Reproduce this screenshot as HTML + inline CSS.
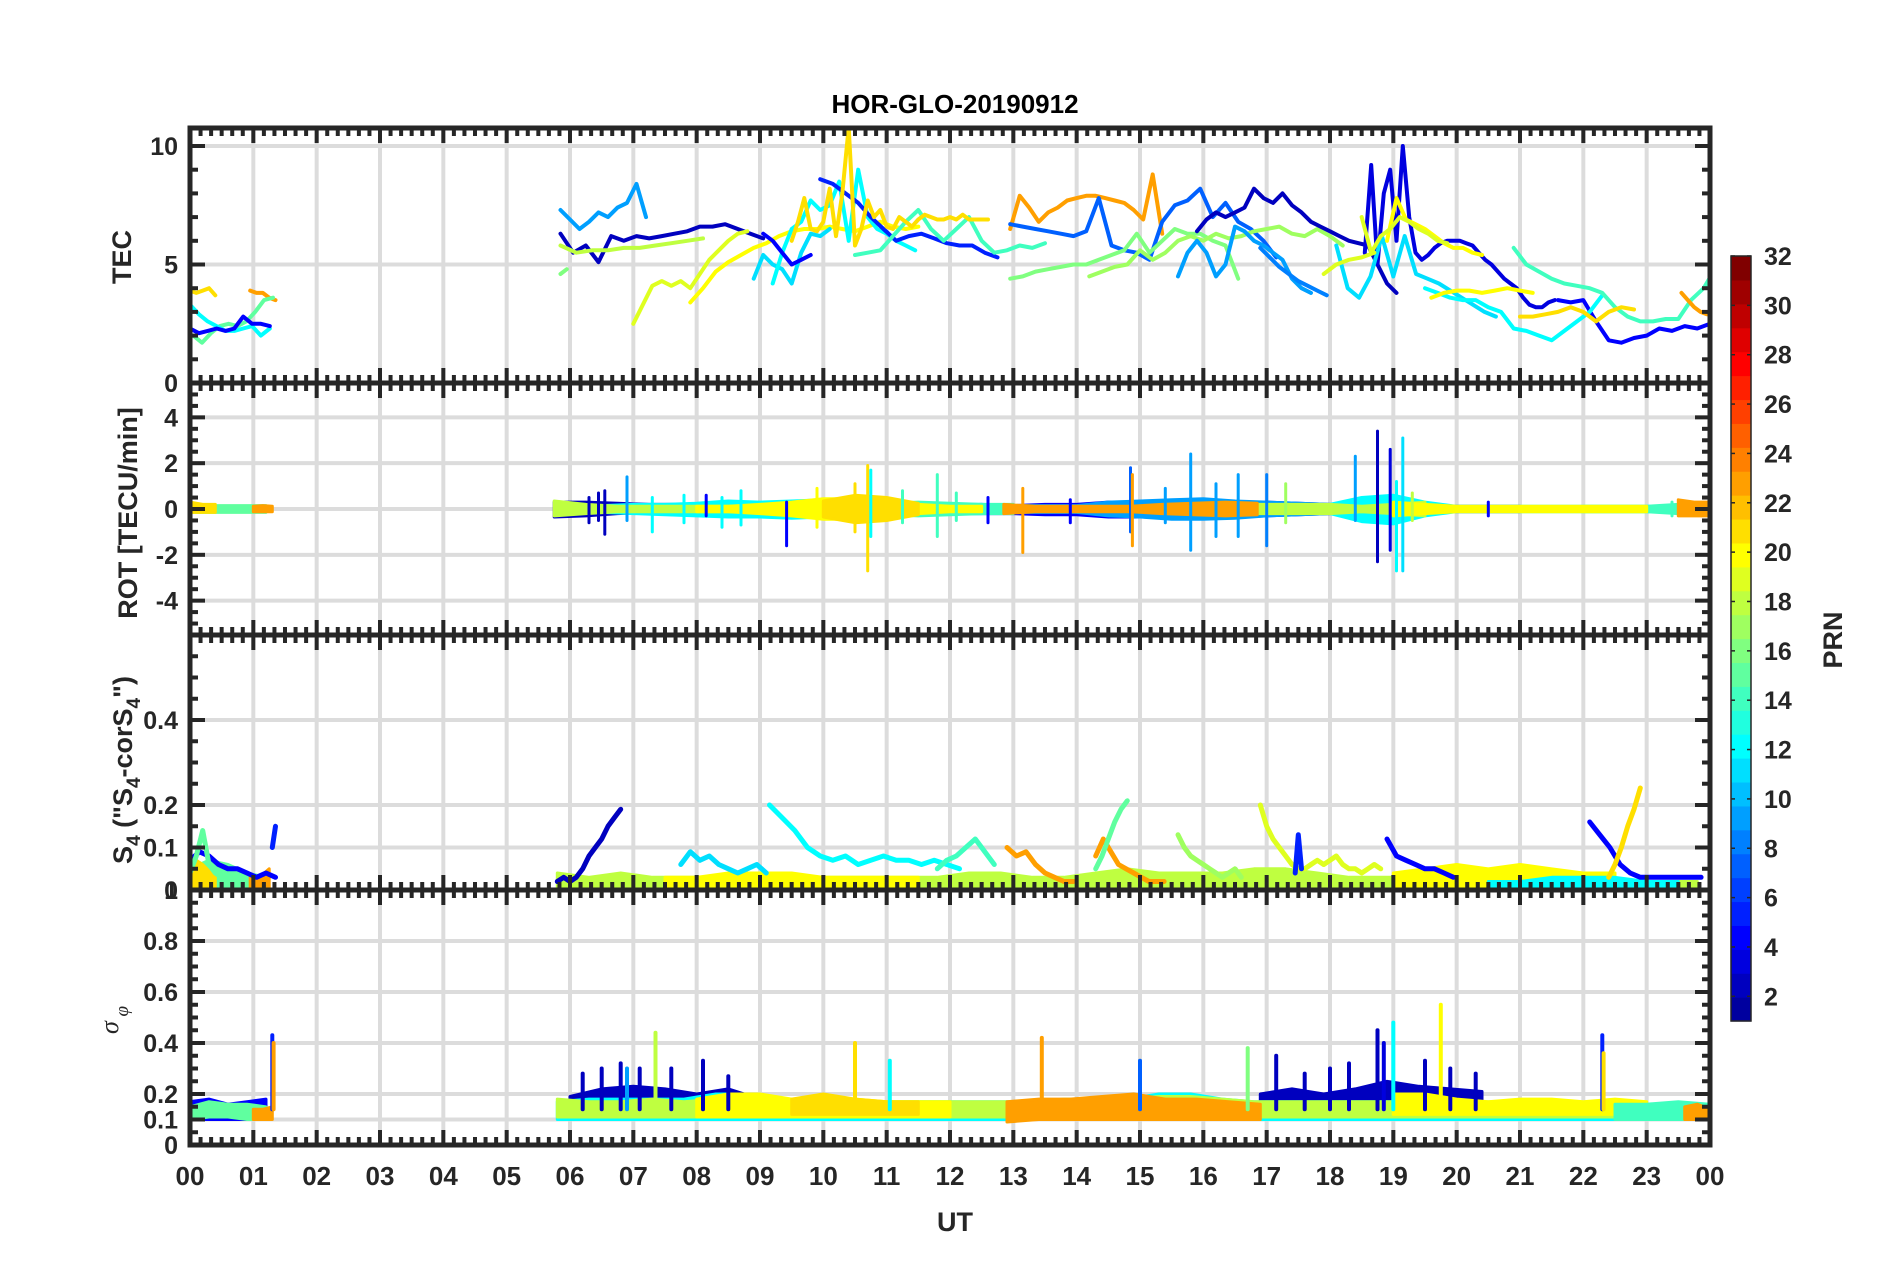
<!DOCTYPE html>
<html><head><meta charset="utf-8"><title>HOR-GLO-20190912</title>
<style>
html,body{margin:0;padding:0;background:#fff;}
svg{display:block;font-family:"Liberation Sans",Arial,sans-serif;}
</style></head>
<body>
<svg id="chart" width="1902" height="1272" viewBox="0 0 1902 1272" xmlns="http://www.w3.org/2000/svg">
<rect x="0" y="0" width="1902" height="1272" fill="#fff"/>
<text x="955" y="113" text-anchor="middle" font-size="26" font-weight="bold" fill="#000">HOR-GLO-20190912</text>
<text transform="translate(131,257) rotate(-90)" text-anchor="middle" font-size="27" font-weight="bold" fill="#262626">TEC</text>
<text transform="translate(137,513) rotate(-90)" text-anchor="middle" font-size="27" font-weight="bold" fill="#262626">ROT [TECU/min]</text>
<text transform="translate(132,770) rotate(-90)" text-anchor="middle" font-size="27" font-weight="bold" fill="#262626">S<tspan font-size="19" dy="8">4</tspan><tspan dy="-8"> ("S</tspan><tspan font-size="19" dy="8">4</tspan><tspan dy="-8">-corS</tspan><tspan font-size="19" dy="8">4</tspan><tspan dy="-8">")</tspan></text>
<text transform="translate(118,1020) rotate(-90)" text-anchor="middle" font-size="26" font-style="italic" fill="#262626" font-family="Liberation Serif, serif">σ<tspan font-size="19" dy="10"> φ</tspan></text>
<text x="955" y="1231" text-anchor="middle" font-size="27" font-weight="bold" fill="#262626">UT</text>
<text transform="translate(1842,640) rotate(-90)" text-anchor="middle" font-size="27" font-weight="bold" fill="#262626">PRN</text>
<g id="grid"></g><g id="data"></g><g id="axes"></g><g id="cbar"></g>
</svg>
<script>
// ---------- DATA ----------
const hourTickLabels=["00","01","02","03","04","05","06","07","08","09","10","11","12","13","14","15","16","17","18","19","20","21","22","23","00"];
const colorbarTicks=[2,4,6,8,10,12,14,16,18,20,22,24,26,28,30,32];
const tecTicks=[0,5,10];
const rotTicks=[-4,-2,0,2,4];
const s4Ticks=[0,0.1,0.2,0.4];
const sigTicks=[0,0.1,0.2,0.4,0.6,0.8,1];

// TEC series: [prn, startHour, stepHour, values]
const tecSeries=[
[21,0,0.1,[3.9,3.8,3.9,4.0,3.7]],
[23,0.95,0.1,[3.9,3.8,3.8,3.6,3.5]],
[15,0.05,0.14,[2.0,1.7,2.1,2.4,2.5,2.4,2.6,3.0,3.5,3.6]],
[12,0,0.14,[3.3,2.9,2.6,2.4,2.2,2.2,2.3,2.4,2.0,2.3]],
[4,0,0.14,[2.3,2.1,2.2,2.3,2.2,2.3,2.8,2.5,2.5,2.4]],
[9,5.85,0.15,[7.3,6.9,6.5,6.8,7.2,7.0,7.4,7.6,8.4,7.0]],
[2,5.85,0.2,[6.3,5.5,5.8,5.1,6.2,6.0,6.2,6.1,6.2,6.3,6.4,6.6,6.6,6.7,6.5,6.3,6.1]],
[18,5.85,0.25,[5.8,5.5,5.6,5.6,5.7,5.7,5.8,5.9,6.0,6.1]],
[16,5.85,0.1,[4.6,4.8]],
[19,7.0,0.15,[2.5,3.3,4.1,4.3,4.1,4.3,4.0,4.6,5.2,5.6,6.0,6.3,6.4]],
[20,7.9,0.2,[3.4,4.0,4.7,5.1,5.4,5.7,5.9,6.2,6.4,6.5,6.5,6.6,6.5,6.4,6.6,6.8,6.6,6.5,6.6]],
[11,8.9,0.15,[4.4,5.4,5.0,4.8,4.2,5.5,6.3,6.2,6.5]],
[12,9.2,0.15,[4.2,5.5,6.5,6.8,7.7,7.3,7.5,8.5,6.0,9.0,7.0,6.5,6.3,6.0,5.8,5.6]],
[4,9.05,0.15,[6.3,6.0,5.5,5.0,5.2,5.4]],
[5,9.95,0.2,[8.6,8.4,8.0,7.6,7.0,6.5,6.0,6.2,6.3,6.1,5.9,5.8,5.8,5.5,5.3]],
[14,10.5,0.2,[5.4,5.5,5.6,6.2,6.8,7.3,6.5,6.0,6.5,7.0,6.0,5.5,5.6,5.8,5.7,5.9]],
[21,9.5,0.1,[6.0,6.8,7.8,6.5,6.4,6.8,8.2,6.2,8.0,10.8,5.8,6.5,7.7,7.0,7.3,6.6,6.5,7.0,6.8,6.6,6.9,7.1,7.0,6.9,6.9,7.0,6.9,7.1,6.9,6.9,6.9,6.9]],
[23,12.95,0.15,[6.5,7.9,7.4,6.8,7.2,7.4,7.7,7.8,7.9,7.9,7.8,7.7,7.6,7.3,6.9,8.8,6.3]],
[7,12.95,0.2,[6.7,6.6,6.5,6.4,6.3,6.2,6.4,7.8,5.8,5.6,5.5,5.2,6.8,7.5,7.7,8.2,7.0,7.6,6.8,6.5,6.0,5.3]],
[16,12.95,0.2,[4.4,4.5,4.7,4.8,4.9,5.0,5.0,5.2,5.4,5.6,6.3,5.5,6.0,6.5,6.3,6.3,6.0,5.8,4.4]],
[17,14.2,0.2,[4.5,4.7,4.9,5.0,5.6,5.2,5.5,6.0,6.2,6.0,6.3,6.1,6.2,6.4,6.5,6.6,6.3,6.2,6.5,6.2,5.8]],
[9,15.6,0.15,[4.5,5.5,6.0,5.5,4.5,5.0,6.6,6.4,6.0,5.8,5.5,5.2,4.4,4.0,3.8]],
[8,16.9,0.15,[5.7,5.3,4.9,4.6,4.3,4.1,3.9,3.7]],
[2,15.9,0.15,[6.4,6.9,7.2,7.0,7.2,7.4,8.2,7.8,7.6,8.0,7.5,7.2,6.8,6.6,6.4,6.2,6.0,5.9,5.8,5.0,4.2,3.8]],
[3,18.55,0.1,[5.5,9.2,5.0,8.0,9.0,6.0,10.0,7.0,5.5,5.2,5.4,5.7,5.9,6.0,6.0,6.0,5.9,5.8,5.5,5.2,5.0,4.7,4.4,4.2,4.0,3.6,3.3,3.2,3.2,3.4,3.5]],
[4,21.6,0.2,[3.5,3.4,3.5,2.6,1.8,1.7,1.9,2.0,2.3,2.2,2.4,2.3,2.5]],
[11,18.1,0.18,[5.8,4.0,3.6,4.5,6.2,4.5,6.2,4.6,4.4,4.2,3.9,3.6,3.3,3.0,2.8]],
[12,19.5,0.2,[4.0,3.8,3.6,3.5,3.5,3.2,3.0,2.3,2.2,2.0,1.8,2.2,2.6,3.0,3.7]],
[14,20.9,0.2,[5.7,5.0,4.7,4.4,4.2,4.1,4.0,3.8,3.2,2.8,2.6,2.6,2.7,2.7,3.5,4.0,4.9]],
[20,18.9,0.15,[6.0,7.8,6.9,6.7,6.5,6.2,5.9,5.7,5.7,5.5,5.4]],
[20,19.6,0.2,[3.6,3.8,3.9,3.9,3.8,3.9,4.0,3.9,3.8]],
[21,21.0,0.2,[2.8,2.8,2.9,3.0,3.2,3.0,2.6,3.0,3.2,3.1]],
[19,18.5,0.15,[7.0,5.5,6.2,6.5,7.0,6.8,6.5,6.3,6.0,5.9]],
[19,17.9,0.2,[4.6,5.0,5.2,5.3,5.5]],
[23,23.55,0.1,[3.8,3.5,3.2,3.0,2.9]]
];

// ROT band layers: [prn, startHour, stepHour, upper, lowerMagnitude]
const rotBands=[
[15,0.0,0.4,[0.15,0.15,0.15,0.15],[0.15,0.15,0.15,0.15]],
[21,0.0,0.2,[0.3,0.2,0.2],[0.15,0.15,0.15]],
[23,1.0,0.15,[0.12,0.15,0.12],[0.12,0.12,0.12]],
[2,5.75,0.5,[0.3,0.3,0.25,0.2,0.2,0.2,0.2],[0.35,0.3,0.2,0.15,0.15,0.15,0.15]],
[4,9.0,0.5,[0.2,0.2,0.25,0.2,0.2,0.2,0.15,0.2,0.15,0.2,0.2,0.3,0.3,0.3,0.25,0.25,0.3,0.25,0.2,0.15,0.12,0.12,0.12,0.12,0.12],[0.2,0.2,0.25,0.25,0.2,0.2,0.2,0.2,0.2,0.25,0.25,0.35,0.35,0.35,0.35,0.35,0.3,0.25,0.2,0.15,0.12,0.12,0.12,0.12,0.12]],
[9,13.0,0.5,[0.15,0.15,0.15,0.3,0.35,0.4,0.45,0.35,0.3,0.25,0.2],[0.15,0.15,0.15,0.3,0.35,0.45,0.45,0.4,0.3,0.25,0.2]],
[12,6.5,0.5,[0.15,0.2,0.2,0.25,0.35,0.3,0.35,0.4,0.3,0.25,0.25,0.2,0.2],[0.15,0.2,0.25,0.3,0.35,0.35,0.4,0.35,0.3,0.25,0.25,0.2,0.2]],
[12,18.0,0.5,[0.2,0.5,0.6,0.3,0.12,0.12,0.12,0.12,0.12,0.12,0.12,0.12,0.12],[0.2,0.55,0.65,0.3,0.12,0.12,0.12,0.12,0.12,0.12,0.12,0.12,0.12]],
[14,10.5,0.5,[0.2,0.25,0.3,0.25,0.2,0.2],[0.2,0.25,0.3,0.25,0.2,0.2]],
[14,22.0,0.5,[0.12,0.12,0.12,0.2,0.25],[0.12,0.12,0.12,0.2,0.2]],
[18,5.75,0.5,[0.35,0.2,0.12,0.12,0.12,0.12,0.12],[0.3,0.2,0.12,0.12,0.12,0.12,0.12]],
[18,15.5,0.5,[0.2,0.25,0.2,0.2,0.2,0.2,0.12,0.2,0.3],[0.2,0.25,0.2,0.2,0.2,0.2,0.12,0.2,0.3]],
[20,8.0,0.5,[0.12,0.12,0.2,0.3,0.45,0.45,0.3,0.2,0.12,0.12],[0.12,0.12,0.2,0.3,0.45,0.45,0.3,0.2,0.12,0.12]],
[20,19.0,0.5,[0.3,0.2,0.12,0.12,0.12,0.12,0.12,0.12,0.12],[0.3,0.2,0.12,0.12,0.12,0.12,0.12,0.12,0.12]],
[21,10.0,0.5,[0.35,0.6,0.5,0.25],[0.35,0.6,0.5,0.25]],
[23,12.85,0.5,[0.2,0.12,0.12,0.12,0.12,0.2,0.25,0.3,0.25],[0.2,0.12,0.12,0.12,0.12,0.2,0.25,0.3,0.25]],
[23,23.5,0.25,[0.4,0.3,0.3],[0.3,0.3,0.3]]
];
// ROT spikes: [prn, hour, upper, lowerMagnitude]
const rotSpikes=[
[9,6.9,1.4,0.5],[2,6.55,0.8,1.1],[2,6.3,0.5,0.6],[2,6.45,0.7,0.5],[12,7.3,0.5,1.0],[12,7.8,0.6,0.6],[4,8.15,0.6,0.3],
[12,8.4,0.5,0.8],[12,8.7,0.8,0.7],[4,9.42,0.3,1.6],[20,9.9,0.9,0.8],[21,10.7,1.9,2.7],[12,10.75,1.7,1.2],[21,10.5,1.1,1.0],
[14,11.25,0.8,0.6],[14,11.8,1.5,1.2],[14,12.1,0.7,0.5],[4,12.6,0.5,0.6],[23,13.15,0.9,1.9],[4,13.9,0.4,0.6],
[7,14.85,1.8,1.0],[23,14.88,1.5,1.6],[9,15.4,0.9,0.6],[9,15.8,2.4,1.8],[9,16.2,1.1,1.2],[9,16.55,1.5,1.2],
[8,17.0,1.5,1.6],[17,17.3,1.1,0.6],[9,18.4,2.3,0.5],[2,18.75,3.4,2.3],[3,18.95,2.6,1.8],[11,19.15,3.1,2.7],[12,19.05,1.2,2.7],
[18,19.3,0.7,0.5],[4,20.5,0.3,0.3],[14,23.4,0.3,0.3]
];

// S4 band layers: [prn, startHour, stepHour, upper]
const s4Bands=[
[15,0.0,0.3,[0.05,0.07,0.06,0.04,0.03]],
[21,0.0,0.2,[0.08,0.06,0.03]],
[23,0.95,0.15,[0.03,0.03,0.05]],
[18,5.8,0.5,[0.04,0.03,0.04,0.03,0.03,0.03,0.03,0.03,0.03,0.03,0.03,0.03,0.03,0.04,0.04,0.03,0.03,0.04,0.05,0.04,0.04,0.04,0.05,0.05,0.04,0.03,0.03,0.03,0.03,0.03,0.03,0.03,0.02,0.02,0.02,0.02,0.02]],
[20,7.5,0.5,[0.03,0.03,0.04,0.04,0.04,0.03,0.03,0.03,0.03]],
[20,19.0,0.5,[0.04,0.05,0.06,0.05,0.06,0.05,0.04,0.04]],
[12,20.5,0.5,[0.02,0.02,0.03,0.03,0.03,0.02,0.02]]
];
// S4 line series: [prn, startHour, stepHour, values]
const s4Series=[
[4,0.0,0.15,[0.07,0.09,0.08,0.06,0.05,0.05,0.04,0.03,0.04,0.03]],
[15,0.0,0.1,[0.04,0.08,0.14,0.06,0.04,0.03,0.03]],
[5,1.3,0.05,[0.1,0.15]],
[2,5.8,0.1,[0.02,0.03,0.02,0.03,0.05,0.08,0.1,0.12,0.15,0.17,0.19]],
[11,7.75,0.15,[0.06,0.09,0.07,0.08,0.06,0.05,0.04,0.05,0.06,0.04]],
[12,9.15,0.2,[0.2,0.17,0.14,0.1,0.08,0.07,0.08,0.06,0.07,0.08,0.07,0.07,0.06,0.07,0.06,0.05]],
[14,11.8,0.15,[0.05,0.07,0.08,0.1,0.12,0.09,0.06]],
[23,12.9,0.15,[0.1,0.08,0.09,0.06,0.04,0.03,0.02,0.02]],
[23,14.3,0.12,[0.08,0.12,0.09,0.06,0.05,0.04,0.03,0.02,0.02,0.02]],
[15,14.3,0.1,[0.05,0.08,0.12,0.16,0.19,0.21]],
[17,15.6,0.1,[0.13,0.1,0.08,0.07,0.06,0.05,0.04,0.03,0.04,0.05,0.03]],
[19,16.9,0.1,[0.2,0.15,0.12,0.1,0.08,0.06,0.05,0.05,0.06,0.07,0.06,0.07,0.08,0.06,0.05,0.05,0.04,0.05,0.06,0.05]],
[5,17.45,0.05,[0.04,0.13,0.05]],
[4,18.9,0.15,[0.12,0.08,0.07,0.06,0.05,0.05,0.04,0.03]],
[4,22.1,0.16,[0.16,0.13,0.1,0.06,0.04,0.03,0.03,0.03,0.03,0.03,0.03,0.03]],
[21,22.4,0.1,[0.03,0.06,0.1,0.15,0.19,0.24]]
];

// Sigma-phi band layers: [prn, startHour, stepHour, upper, lower]
const sigBands=[
[4,0.0,0.3,[0.17,0.18,0.16,0.17,0.18],[0.1,0.1,0.1,0.1,0.1]],
[15,0.0,0.3,[0.15,0.17,0.16,0.16,0.15],[0.1,0.11,0.11,0.1,0.1]],
[23,1.0,0.15,[0.14,0.14,0.15],[0.1,0.1,0.1]],
[2,6.0,0.5,[0.19,0.22,0.23,0.22,0.2,0.22,0.18],[0.12,0.12,0.12,0.12,0.12,0.12,0.12]],
[2,16.9,0.5,[0.2,0.22,0.2,0.22,0.25,0.23,0.22,0.21],[0.12,0.12,0.12,0.12,0.12,0.12,0.12,0.12]],
[12,5.8,0.5,[0.17,0.18,0.18,0.18,0.18,0.2,0.2,0.18,0.18,0.17,0.17,0.17,0.17,0.17,0.17,0.17,0.17,0.17,0.18,0.2,0.2,0.18,0.17,0.17,0.17,0.17,0.17,0.17,0.16,0.16,0.16,0.16,0.16,0.16,0.16,0.16,0.16],[0.1,0.1,0.1,0.1,0.1,0.1,0.1,0.1,0.1,0.1,0.1,0.1,0.1,0.1,0.1,0.1,0.1,0.1,0.1,0.1,0.1,0.1,0.1,0.1,0.1,0.1,0.1,0.1,0.1,0.1,0.1,0.1,0.1,0.1,0.1,0.1,0.1]],
[18,5.8,0.5,[0.18,0.17,0.17,0.18,0.17,0.18,0.18,0.17,0.17,0.17,0.17,0.17,0.17,0.17,0.17,0.17,0.18,0.18,0.18,0.19,0.19,0.18,0.17,0.17,0.17,0.17,0.17,0.17,0.17,0.17,0.17,0.16,0.16,0.16,0.16,0.16,0.16],[0.11,0.11,0.11,0.11,0.11,0.11,0.11,0.11,0.11,0.11,0.11,0.11,0.11,0.11,0.11,0.11,0.11,0.11,0.11,0.11,0.11,0.11,0.11,0.11,0.11,0.11,0.11,0.11,0.11,0.11,0.11,0.11,0.11,0.11,0.11,0.11,0.11]],
[20,8.0,0.5,[0.18,0.2,0.2,0.18,0.18,0.18,0.17,0.17,0.17],[0.11,0.11,0.11,0.11,0.11,0.11,0.11,0.11,0.11]],
[21,9.5,0.5,[0.18,0.2,0.18,0.17,0.17],[0.12,0.12,0.12,0.12,0.12]],
[23,12.9,0.5,[0.17,0.18,0.18,0.19,0.2,0.18,0.18,0.17,0.16],[0.09,0.1,0.1,0.1,0.1,0.1,0.1,0.1,0.1]],
[20,19.0,0.5,[0.2,0.2,0.18,0.17,0.18,0.18,0.17,0.18,0.17],[0.12,0.12,0.12,0.12,0.12,0.12,0.12,0.12,0.12]],
[14,22.5,0.5,[0.16,0.16,0.17,0.16],[0.1,0.1,0.1,0.1]],
[23,23.6,0.2,[0.15,0.16,0.14],[0.1,0.1,0.1]]
];
// Sigma-phi spikes: [prn, hour, peak]
const sigSpikes=[
[5,1.3,0.43],[23,1.32,0.4],[2,6.2,0.28],[2,6.5,0.3],[2,6.8,0.32],[2,7.1,0.3],[2,7.6,0.3],[2,8.1,0.33],[2,8.5,0.27],
[18,7.35,0.44],[21,10.5,0.4],[12,11.05,0.33],[23,13.45,0.42],[7,15.0,0.33],[16,16.7,0.38],
[2,17.15,0.35],[2,17.6,0.28],[2,18.0,0.3],[2,18.3,0.32],[2,18.75,0.45],[3,18.85,0.4],[2,19.5,0.33],[2,19.9,0.3],[2,20.3,0.28],
[12,19.0,0.48],[20,19.75,0.55],[5,22.3,0.43],[21,22.32,0.36],[9,6.9,0.3]
];

// ---------- RENDERING ----------
const NS='http://www.w3.org/2000/svg';
const X0=190,X1=1710;
const P={
 tec:{top:128,bot:383,min:0,max:10.76},
 rot:{top:383,bot:635,min:-5.5,max:5.5},
 s4:{top:635,bot:890,min:0,max:0.6},
 sig:{top:890,bot:1145,min:0,max:1}
};
function xS(h){return X0+(X1-X0)*h/24;}
function yS(p,v){return p.bot-(v-p.min)/(p.max-p.min)*(p.bot-p.top);}
function mk(tag,parent,attrs){const e=document.createElementNS(NS,tag);for(const k in attrs)e.setAttribute(k,attrs[k]);parent.appendChild(e);return e;}
function jet(m){const n=Math.ceil(m/4);const u=[];for(let i=1;i<=n;i++)u.push(i/n);for(let i=1;i<n;i++)u.push(1);for(let i=n;i>=1;i--)u.push(i/n);
 const g0=Math.ceil(n/2)-(m%4==1?1:0);const J=[];for(let i=0;i<m;i++)J.push([0,0,0]);
 for(let i=0;i<u.length;i++){const g=g0+i+1,r=g+n,b=g-n;if(r>=1&&r<=m)J[r-1][0]=u[i];if(g>=1&&g<=m)J[g-1][1]=u[i];if(b>=1&&b<=m)J[b-1][2]=u[i];}
 return J.map(c=>'rgb('+c.map(v=>Math.round(v*255)).join(',')+')');}
const JET=jet(32);
function col(prn){return JET[Math.max(0,Math.min(31,prn-1))];}

const grid=document.getElementById('grid'),data=document.getElementById('data'),axes=document.getElementById('axes'),cbar=document.getElementById('cbar');
const defs=mk('defs',document.getElementById('chart'),{});
for(const k in P){const p=P[k];const cp=mk('clipPath',defs,{id:'clip-'+k});mk('rect',cp,{x:X0,y:p.top,width:X1-X0,height:p.bot-p.top});}

const gridCfg={tec:[5,10],rot:[-4,-2,0,2,4],s4:[0.1,0.2,0.4],sig:[0.1,0.2,0.4,0.6,0.8]};
for(const k in P){const p=P[k];
 for(let h=1;h<24;h++){const l=mk('line',grid,{x1:xS(h),x2:xS(h),y1:p.top,y2:p.bot,stroke:'#dcdcdc','stroke-width':4});
  
  }
 gridCfg[k].forEach(v=>{const l=mk('line',grid,{x1:X0,x2:X1,y1:yS(p,v),y2:yS(p,v),stroke:'#dcdcdc','stroke-width':4});
  
  });
}

function polyline(g,pts,c,w,name){const e=mk('polyline',g,{points:pts.map(q=>q[0].toFixed(1)+','+q[1].toFixed(1)).join(' '),fill:'none',stroke:c,'stroke-width':w,'stroke-linejoin':'round','stroke-linecap':'round'});
 
 return e;}
function band(g,p,prn,t0,dt,hi,lo,signedLo,name){const top=hi.map((v,i)=>[xS(t0+i*dt),yS(p,v)]);
 const bot=lo.map((v,i)=>[xS(t0+i*dt),yS(p,signedLo?-v:v)]).reverse();
 const e=mk('polygon',g,{points:top.concat(bot).map(q=>q[0].toFixed(1)+','+q[1].toFixed(1)).join(' '),fill:col(prn),stroke:col(prn),'stroke-width':3,'stroke-linejoin':'round'});
 
 }

const gT=mk('g',data,{'clip-path':'url(#clip-tec)'});


tecSeries.forEach(s=>{polyline(gT,s[3].map((v,i)=>[xS(s[1]+i*s[2]),yS(P.tec,v)]),col(s[0]),4,'tec-line-prn'+s[0]);});
const gR=mk('g',data,{'clip-path':'url(#clip-rot)'});


rotBands.forEach(s=>band(gR,P.rot,s[0],s[1],s[2],s[3],s[4],true,'rot-band-prn'+s[0]));
rotSpikes.forEach(s=>{polyline(gR,[[xS(s[1]),yS(P.rot,s[2])],[xS(s[1]),yS(P.rot,-s[3])]],col(s[0]),3,'rot-spike-prn'+s[0]);});
const gS=mk('g',data,{'clip-path':'url(#clip-s4)'});


s4Bands.forEach(s=>band(gS,P.s4,s[0],s[1],s[2],s[3],s[3].map(()=>0.005),false,'s4-band-prn'+s[0]));
s4Series.forEach(s=>{polyline(gS,s[3].map((v,i)=>[xS(s[1]+i*s[2]),yS(P.s4,v)]),col(s[0]),5,'s4-line-prn'+s[0]);});
const gG=mk('g',data,{'clip-path':'url(#clip-sig)'});


sigBands.forEach(s=>band(gG,P.sig,s[0],s[1],s[2],s[3],s[4],false,'sigma-band-prn'+s[0]));
sigSpikes.forEach(s=>{polyline(gG,[[xS(s[1]),yS(P.sig,0.14)],[xS(s[1]),yS(P.sig,s[2])]],col(s[0]),4,'sigma-spike-prn'+s[0]);});

const AX='#262626';
const yMinor={tec:[0,1],rot:[-5.5,0.5],s4:[0,0.05],sig:[0,0.05]};
const yMajor={tec:tecTicks,rot:rotTicks,s4:s4Ticks,sig:sigTicks};
for(const k in P){const p=P[k];
 const r=mk('rect',axes,{x:X0,y:p.top,width:X1-X0,height:p.bot-p.top,fill:'none',stroke:AX,'stroke-width':5});
 
 
 for(let m=0;m<=144;m++){const x=xS(m/6),maj=m%6==0,L=maj?15:8;
  const t1=mk('line',axes,{x1:x,x2:x,y1:p.top,y2:p.top+L,stroke:AX,'stroke-width':4});
  
  
  const t2=mk('line',axes,{x1:x,x2:x,y1:p.bot,y2:p.bot-L,stroke:AX,'stroke-width':4});
  
  }
 const st=yMinor[k][1];
 for(let v=p.min;v<=p.max+1e-9;v+=st){const vv=Math.round(v*1000)/1000;const maj=yMajor[k].some(t=>Math.abs(t-vv)<1e-6);const L=maj?15:8;const y=yS(p,vv);
  const a=mk('line',axes,{x1:X0,x2:X0+L,y1:y,y2:y,stroke:AX,'stroke-width':4});
  
  
  const b=mk('line',axes,{x1:X1,x2:X1-L,y1:y,y2:y,stroke:AX,'stroke-width':4});
  
  }
 yMajor[k].forEach(v=>{const t=mk('text',axes,{x:178,y:yS(p,v)+9,'text-anchor':'end','font-size':25,'font-weight':'bold',fill:AX});
  t.textContent=String(v);
  
  });
}
hourTickLabels.forEach((s,i)=>{const t=mk('text',axes,{x:xS(i),y:1185,'text-anchor':'middle','font-size':26,'font-weight':'bold',fill:AX});
 t.textContent=s;
 
 });

const CB={x:1731,w:20,top:256,bot:1021,min:1,max:32};
function cbY(v){return CB.bot-(v-CB.min)/(CB.max-CB.min)*(CB.bot-CB.top);}
const bh=(CB.bot-CB.top)/32;
JET.forEach((c,i)=>{const r=mk('rect',cbar,{x:CB.x,y:CB.bot-(i+1)*bh,width:CB.w,height:bh+0.6,fill:c});
 
 });
const cf=mk('rect',cbar,{x:CB.x,y:CB.top,width:CB.w,height:CB.bot-CB.top,fill:'none',stroke:AX,'stroke-width':1.5});


colorbarTicks.forEach(v=>{const y=cbY(v);
 const a=mk('line',cbar,{x1:CB.x,x2:CB.x+4,y1:y,y2:y,stroke:AX,'stroke-width':1.5});
 
 
 const b=mk('line',cbar,{x1:CB.x+CB.w,x2:CB.x+CB.w-4,y1:y,y2:y,stroke:AX,'stroke-width':1.5});
 
 
 const t=mk('text',cbar,{x:1764,y:y+9,'font-size':25,'font-weight':'bold',fill:AX});
 t.textContent=String(v);
 
 });
</script>
</body></html>
